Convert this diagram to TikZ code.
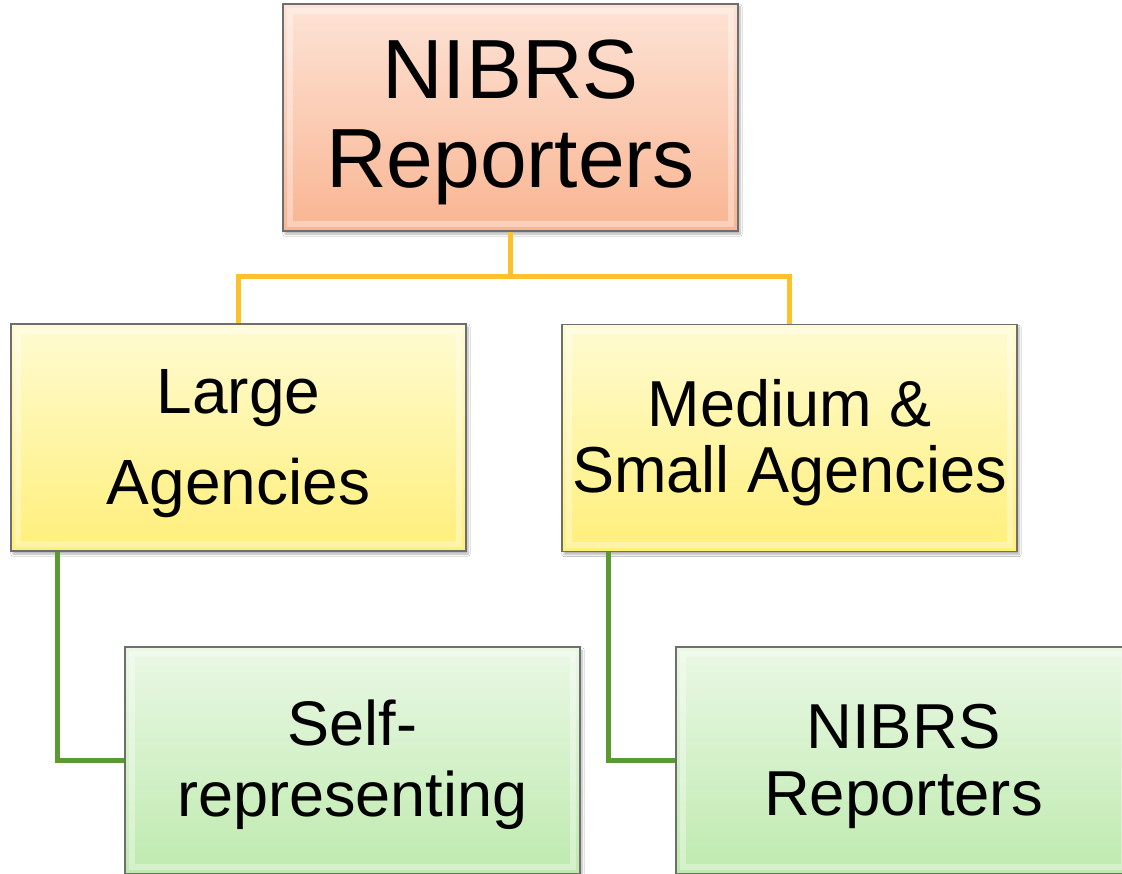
\documentclass[tikz,border=0pt]{standalone}
\usepackage{fontspec}
\setmainfont{Liberation Sans}
\newfontfamily\narrowM[FakeStretch=0.97]{Liberation Sans}
\usetikzlibrary{shadows.blur}

\definecolor{peachTop}{HTML}{FDE3D6}
\definecolor{peachBot}{HTML}{F9B592}
\definecolor{lemonTop}{HTML}{FFFBD2}
\definecolor{lemonBot}{HTML}{FFEF7A}
\definecolor{mintTop}{HTML}{EAF8E5}
\definecolor{mintBot}{HTML}{BEEAAE}
\definecolor{goldLine}{HTML}{FDC12B}
\definecolor{leafLine}{HTML}{5B9A30}
\definecolor{edgeGray}{HTML}{6E6E6E}

\tikzset{
  orgbox/.style={rectangle, draw=edgeGray, line width=1.2pt,
    minimum width=455pt, minimum height=227pt, inner sep=0pt,
    blur shadow={shadow xshift=2pt, shadow yshift=-3pt, shadow blur steps=6, shadow opacity=30},
    path picture={\draw[white, opacity=0.35, line width=6pt]
      ([xshift=7pt,yshift=-7pt]path picture bounding box.north west) rectangle
      ([xshift=-7pt,yshift=7pt]path picture bounding box.south east);}},
  rootbox/.style={orgbox, top color=peachTop, bottom color=peachBot},
  midbox/.style={orgbox, top color=lemonTop, bottom color=lemonBot},
  leafbox/.style={orgbox, top color=mintTop, bottom color=mintBot},
  boxtext/.style={align=center, text=black, inner sep=0pt},
  goldlink/.style={draw=goldLine, line width=5pt},
  leaflink/.style={draw=leafLine, line width=5pt},
}

\begin{document}
\begin{tikzpicture}[x=1pt, y=-1pt]
  \useasboundingbox (0,0) rectangle (1122,874);
  \fill[white] (0,0) rectangle (1122,874);

  % boxes
  \node[rootbox] (root) at (510.5,117.5) {};
  \node[midbox] (large) at (238.5,437.5) {};
  \node[midbox] (medium) at (789.5,438) {};
  \node[leafbox] (selfrep) at (352.5,760.5) {};
  \node[leafbox] (reporters) at (903.5,760.5) {};

  % box labels
  \node[boxtext, font={\fontsize{84}{89}\selectfont}] (rootText)
    at ([yshift=-4.5pt]root.center) {NIBRS\\Reporters};
  \node[boxtext, font={\fontsize{64}{91}\selectfont}] (largeText)
    at ([yshift=-6pt]large.center) {Large\\Agencies};
  \node[boxtext, font={\narrowM\fontsize{65}{66}\selectfont}] (mediumText)
    at ([yshift=-4.5pt]medium.center) {Medium \&\\Small Agencies};
  \node[boxtext, font={\fontsize{63}{71}\selectfont}] (selfrepText)
    at ([yshift=-4.5pt]selfrep.center) {Self-\\representing};
  \node[boxtext, font={\fontsize{63.5}{67}\selectfont}] (reportersText)
    at ([yshift=-5.5pt]reporters.center) {NIBRS\\Reporters};

  % connectors
  \coordinate (bar) at (510.5,276.5);
  \coordinate (lstem) at (57,552);
  \coordinate (rstem) at (608,552);
  \draw[goldlink] (root.south) -- (bar);
  \draw[goldlink] (large.north) |- (bar) -| (medium.north);
  \draw[leaflink] (lstem) |- (selfrep.west);
  \draw[leaflink] (rstem) |- (reporters.west);
\end{tikzpicture}
\end{document}
